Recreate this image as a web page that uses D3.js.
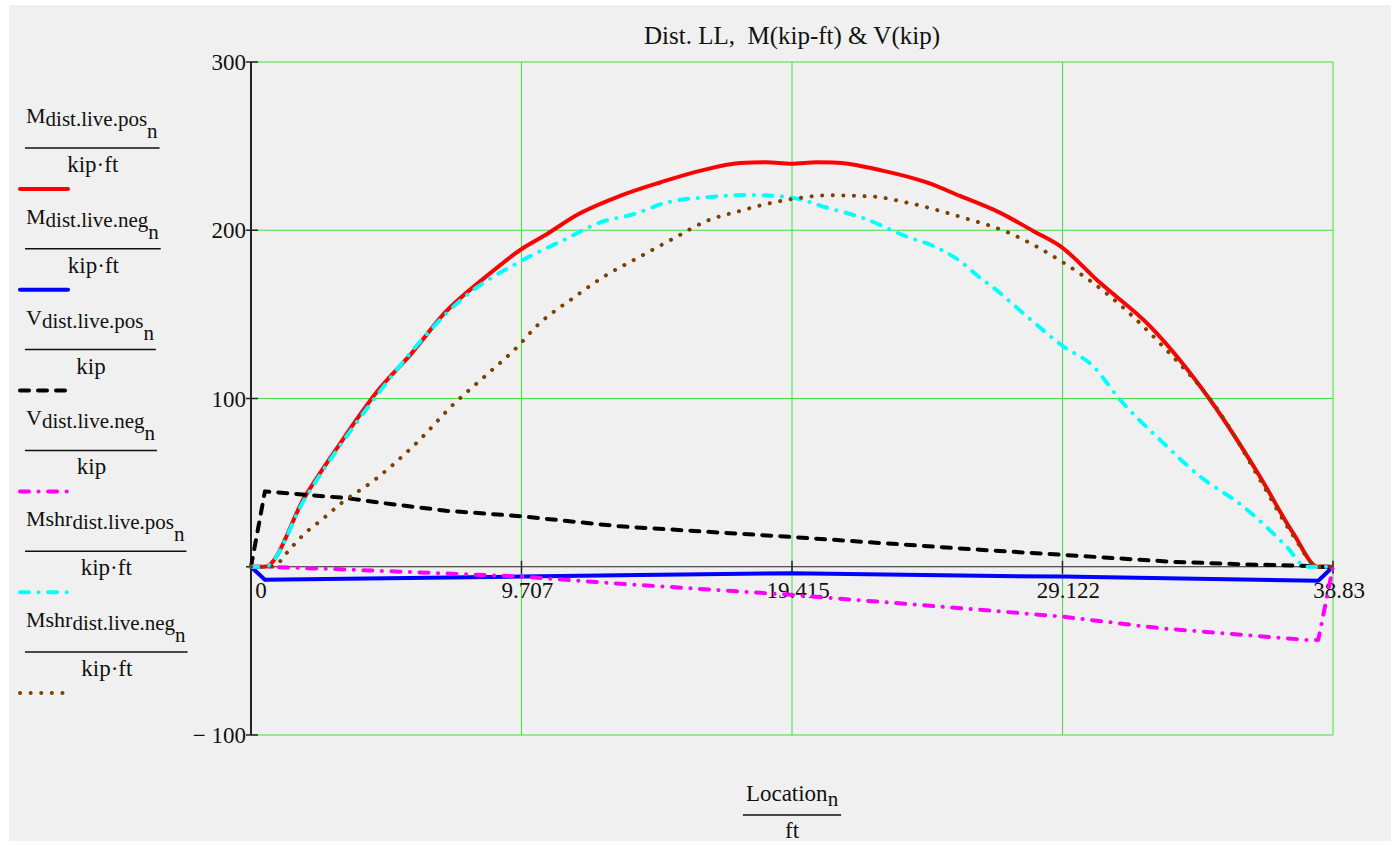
<!DOCTYPE html>
<html><head><meta charset="utf-8">
<script src="https://cdn.jsdelivr.net/npm/d3@7"></script>
<style>
html,body{margin:0;padding:0;background:#fff;}
</style></head>
<body><svg id="chart" width="1400" height="846"></svg>
<script>
// ---- data ----
const title = "Dist. LL,  M(kip-ft) & V(kip)";
const xTicks = [0, 9.707, 19.415, 29.122, 38.83];
const xTickLabels = ["0", "9.707", "19.415", "29.122", "38.83"];
const yTicks = [-100, 0, 100, 200, 300];
const yTickLabels = ["\u2212 100", "", "100", "200", "300"];
const xDomain = [0, 38.83];
const yDomain = [-100, 300];

const mPosLoc = [0, 0.5, 1.94, 3.13, 4.57, 5.77, 6.96, 8.40, 9.70, 10.55, 11.74, 13.24, 14.68, 16.11, 17.55, 18.5, 19.4, 20.3, 20.9, 22.7, 24.25, 25.44, 26.87, 28.07, 29.03, 30.46, 32.26, 34.41, 36.2, 37.4, 38.3, 38.83];
const mPosVal = [0, 0, 41.8, 71.6, 105, 127, 151, 172, 188.7, 197, 209.5, 220.4, 228.4, 235.3, 239.9, 240.4, 239.5, 240.4, 240.3, 235.3, 228.4, 220.4, 210.5, 199.6, 190.7, 168.9, 143, 99.4, 53.8, 20, 0, 0];

const mNegLoc = [0, 0.5, 9.7, 13.24, 19.4, 26.16, 29.1, 38.3, 38.83];
const mNegVal = [0, -7.7, -5.8, -5.0, -3.8, -5.4, -5.8, -8.3, 0];

const vPosLoc = [0, 0.5, 3.37, 5, 7, 9.7, 13.24, 19.4, 26.16, 29.1, 33, 35.5, 37.9, 38.3, 38.83];
const vPosVal = [0, 44.8, 40.9, 37.3, 33.3, 30, 24, 17.7, 10.1, 7.1, 3, 1.5, 0.5, 0, 0];

const vNegLoc = [0, 0.56, 3.4, 9.7, 13.24, 19.4, 25.44, 29.1, 32.6, 37.9, 38.3, 38.83];
const vNegVal = [0, 0, -1.6, -5.8, -10.1, -16.7, -24.6, -29.6, -36.5, -43.5, -43.5, 0];

const shrPosLoc = [0, 0.5, 1.94, 4.57, 6.24, 7.56, 9.59, 11.27, 12.52, 13.72, 14.92, 16.47, 17.9, 19.4, 20.65, 22.09, 23.53, 24.48, 25.44, 26.16, 26.64, 27.83, 29.15, 30.22, 31.18, 32.61, 34.05, 35.6, 37.16, 37.87, 38.83];
const shrPosVal = [0, 0, 40.6, 103, 137, 159, 180.8, 194.6, 204.6, 209.5, 216.5, 219.8, 221, 219.4, 213.5, 206.5, 196.2, 190.7, 181.7, 171.8, 165.9, 149, 131, 119.2, 99.4, 75.6, 53.8, 35.9, 12.1, 0, 0];

const shrNegLoc = [0, 0.86, 1.14, 2.08, 2.47, 3.25, 4.45, 5.88, 7.32, 8.40, 9.53, 10.31, 11.5, 12.7, 13.96, 15.15, 16.35, 17.55, 18.74, 19.52, 20.77, 22.33, 23.53, 24.73, 25.56, 27.18, 29.15, 30.82, 32.61, 34.77, 36.2, 37.4, 38.3, 38.83];
const shrNegVal = [0, 0, 5.5, 22, 27, 37.9, 51.8, 72.6, 97.4, 113.3, 130.2, 144, 159, 172.8, 184.3, 195, 205.5, 211.5, 216.5, 218.8, 220.8, 220, 216.5, 211.5, 207.5, 198.6, 180.8, 160.9, 133, 91.5, 52, 18.5, 0, 0];

const legendMain = ["M", "M", "V", "V", "Mshr", "Mshr"];
const legendSub = ["dist.live.pos", "dist.live.neg", "dist.live.pos", "dist.live.neg", "dist.live.pos", "dist.live.neg"];
const legendDen = ["kip\u00B7ft", "kip\u00B7ft", "kip", "kip", "kip\u00B7ft", "kip\u00B7ft"];
const xLabelMain = "Location", xLabelSub = "n", xLabelDen = "ft";

// ---- styles ----
const FONT = "'Liberation Serif', 'Times New Roman', Tinos, 'Noto Serif', 'DejaVu Serif', FreeSerif, Times, serif";
const series = [
  {loc: mPosLoc, val: mPosVal, color: "#ff0000", dash: null, smooth: true},
  {loc: mNegLoc, val: mNegVal, color: "#0000ff", dash: null, smooth: false},
  {loc: vPosLoc, val: vPosVal, color: "#000000", dash: "9 9", smooth: false},
  {loc: vNegLoc, val: vNegVal, color: "#ff00ff", dash: "9 9.5 0.1 9.5", smooth: false},
  {loc: shrPosLoc, val: shrPosVal, color: "#00ffff", dash: "9 9.5 0.1 9.5", smooth: true},
  {loc: shrNegLoc, val: shrNegVal, color: "#804000", dash: "0.1 10.5", smooth: true}
];

const svg = d3.select("#chart");
svg.append("rect").attr("x", 9).attr("y", 5).attr("width", 1382).attr("height", 836).attr("fill", "#f0f0f0");

const x = d3.scaleLinear().domain(xDomain).range([251, 1333]);
const y = d3.scaleLinear().domain(yDomain).range([735, 62]);
const green = "#40e040";

function txt(sel) { return sel.append("text").style("font-family", FONT).attr("fill", "#111"); }

// grid
const g = svg.append("g");
xTicks.slice(1).forEach(t => g.append("line").attr("x1", x(t)).attr("x2", x(t)).attr("y1", y(yDomain[0])).attr("y2", y(yDomain[1])).attr("stroke", green).attr("stroke-width", 1));
yTicks.filter(t => t !== 0).forEach(t => g.append("line").attr("x1", x(0)).attr("x2", x(xDomain[1])).attr("y1", y(t)).attr("y2", y(t)).attr("stroke", green).attr("stroke-width", 1));

// axes
g.append("line").attr("x1", x(0)).attr("x2", x(0)).attr("y1", y(yDomain[0])).attr("y2", y(yDomain[1])).attr("stroke", "#222").attr("stroke-width", 2);
g.append("line").attr("x1", x(0)).attr("x2", x(xDomain[1])).attr("y1", y(0)).attr("y2", y(0)).attr("stroke", "#222").attr("stroke-width", 1.2);
yTicks.forEach((t, i) => {
  g.append("line").attr("x1", x(0) - 5).attr("x2", x(0) + 7).attr("y1", y(t)).attr("y2", y(t)).attr("stroke", "#222").attr("stroke-width", 1.5);
  if (yTickLabels[i]) txt(g).attr("x", x(0) - 5).attr("y", y(t) + 8).attr("text-anchor", "end").attr("font-size", 23).style("white-space", "pre").text(yTickLabels[i]);
});
xTicks.forEach((t, i) => {
  g.append("line").attr("x1", x(t)).attr("x2", x(t)).attr("y1", y(0) - 6).attr("y2", y(0) + 7).attr("stroke", "#222").attr("stroke-width", 1.5);
  txt(g).attr("x", x(t) + (t === 0 ? 10 : 6)).attr("y", y(0) + 31).attr("text-anchor", "middle").attr("font-size", 23).text(xTickLabels[i]);
});

// series
series.forEach(s => {
  const pts = s.loc.map((l, i) => [l, s.val[i]]);
  const line = d3.line().x(d => x(d[0])).y(d => y(d[1])).curve(s.smooth ? d3.curveMonotoneX : d3.curveLinear);
  const p = svg.append("path").attr("d", line(pts)).attr("fill", "none").attr("stroke", s.color)
    .attr("stroke-width", 4).attr("stroke-linejoin", "round").attr("stroke-linecap", s.dash ? "round" : "butt");
  if (s.dash) p.attr("stroke-dasharray", s.dash);
});

// title
txt(svg).attr("x", (x(0) + x(xDomain[1])) / 2).attr("y", 44).attr("text-anchor", "middle").attr("font-size", 25).style("white-space", "pre").text(title);

// legend
series.forEach((s, i) => {
  const sy = 189 + i * 100.8;
  const t = txt(svg).attr("x", 26).attr("y", sy - 66).attr("font-size", 22);
  t.append("tspan").text(legendMain[i]);
  t.append("tspan").attr("font-size", 21).attr("dy", 3).text(legendSub[i]);
  t.append("tspan").attr("font-size", 21).attr("dy", 12).text("n");
  const w = t.node().getComputedTextLength();
  svg.append("line").attr("x1", 25).attr("x2", 26 + w + 2).attr("y1", sy - 41).attr("y2", sy - 41).attr("stroke", "#111").attr("stroke-width", 1.5);
  txt(svg).attr("x", 26 + w / 2 + 1).attr("y", sy - 17).attr("text-anchor", "middle").attr("font-size", 23).text(legendDen[i]);
  const l = svg.append("line").attr("x1", 20).attr("x2", 68).attr("y1", sy).attr("y2", sy).attr("stroke", s.color).attr("stroke-width", 4)
    .attr("stroke-linecap", "round");
  if (s.dash) l.attr("stroke-dasharray", s.dash);
});

// x label
const cx = (x(0) + x(xDomain[1])) / 2;
const xl = txt(svg).attr("x", cx).attr("y", 801).attr("font-size", 23);
xl.append("tspan").text(xLabelMain);
xl.append("tspan").attr("font-size", 21).attr("dy", 5).text(xLabelSub);
const xw = xl.node().getComputedTextLength();
xl.attr("x", cx - xw / 2);
svg.append("line").attr("x1", cx - xw / 2 - 3).attr("x2", cx + xw / 2 + 3).attr("y1", 815).attr("y2", 815).attr("stroke", "#111").attr("stroke-width", 1.5);
txt(svg).attr("x", cx).attr("y", 838).attr("text-anchor", "middle").attr("font-size", 23).text(xLabelDen);
</script></body></html>
